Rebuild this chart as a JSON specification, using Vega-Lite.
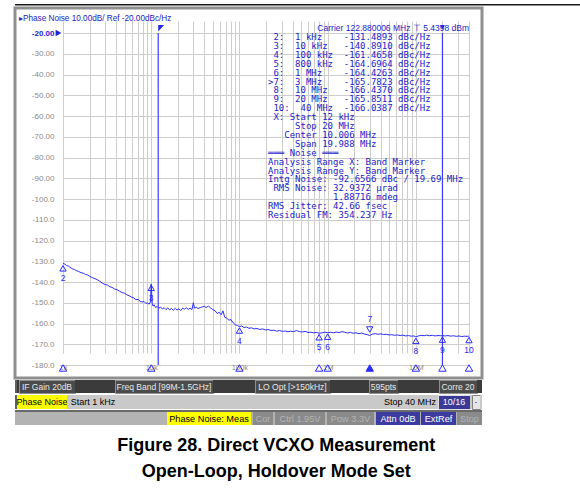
{
  "$schema": "https://vega.github.io/schema/vega-lite/v6.json",
  "background": "white",
  "padding": {"left": 13, "top": 4, "right": 0, "bottom": 0},
  "config": {"font": "Liberation Sans", "view": {"stroke": null}, "axis": {"gridColor": "#cdcdcd", "gridWidth": 1}},
  "datasets": {
    "trace": [
      {"f":1000,"v":-131.0},{"f":1050,"v":-131.4},{"f":1100,"v":-132.1},{"f":1150,"v":-132.3},{"f":1200,"v":-132.9},{"f":1270,"v":-133.6},{"f":1350,"v":-134.0},{"f":1430,"v":-134.6},{"f":1500,"v":-134.9},{"f":1600,"v":-135.5},{"f":1700,"v":-135.8},{"f":1800,"v":-136.4},{"f":1900,"v":-136.6},{"f":2000,"v":-137.2},{"f":2150,"v":-137.9},{"f":2300,"v":-138.4},{"f":2450,"v":-138.9},{"f":2600,"v":-139.6},{"f":2800,"v":-140.6},{"f":3000,"v":-141.2},{"f":3200,"v":-141.5},{"f":3400,"v":-142.3},{"f":3600,"v":-142.6},{"f":3850,"v":-143.4},{"f":4100,"v":-143.7},{"f":4400,"v":-144.5},{"f":4700,"v":-145.1},{"f":5000,"v":-145.4},{"f":5300,"v":-146.2},{"f":5600,"v":-146.6},{"f":6000,"v":-147.3},{"f":6300,"v":-147.6},{"f":6700,"v":-148.5},{"f":7100,"v":-148.4},{"f":7500,"v":-149.3},{"f":7900,"v":-149.6},{"f":8300,"v":-149.4},{"f":8700,"v":-150.3},{"f":9100,"v":-150.1},{"f":9500,"v":-150.7},{"f":9800,"v":-149.6},{"f":10000,"v":-140.9},{"f":10250,"v":-150.2},{"f":10500,"v":-151.6},{"f":10800,"v":-151.0},{"f":11200,"v":-152.3},{"f":11700,"v":-151.8},{"f":12200,"v":-152.6},{"f":12800,"v":-152.1},{"f":13400,"v":-153.0},{"f":14000,"v":-152.4},{"f":14700,"v":-153.3},{"f":15400,"v":-152.5},{"f":16200,"v":-153.4},{"f":17000,"v":-152.8},{"f":17800,"v":-153.6},{"f":18700,"v":-152.7},{"f":19600,"v":-153.5},{"f":20600,"v":-152.9},{"f":21600,"v":-153.8},{"f":22700,"v":-152.6},{"f":23800,"v":-153.1},{"f":25000,"v":-152.4},{"f":26300,"v":-153.2},{"f":27600,"v":-152.6},{"f":29000,"v":-153.3},{"f":30000,"v":-150.0},{"f":31000,"v":-152.6},{"f":32500,"v":-152.2},{"f":34000,"v":-152.8},{"f":36000,"v":-152.3},{"f":38000,"v":-152.0},{"f":40000,"v":-151.8},{"f":42000,"v":-152.3},{"f":44500,"v":-151.6},{"f":47000,"v":-152.5},{"f":50000,"v":-153.3},{"f":53000,"v":-153.9},{"f":56000,"v":-155.2},{"f":59000,"v":-154.6},{"f":62000,"v":-155.8},{"f":65000,"v":-153.9},{"f":68000,"v":-156.9},{"f":72000,"v":-157.5},{"f":76000,"v":-158.4},{"f":80000,"v":-158.1},{"f":85000,"v":-159.7},{"f":90000,"v":-160.6},{"f":95000,"v":-161.0},{"f":100000,"v":-161.47},{"f":106000,"v":-161.2},{"f":113000,"v":-162.0},{"f":120000,"v":-161.7},{"f":128000,"v":-162.3},{"f":137000,"v":-162.1},{"f":147000,"v":-162.6},{"f":158000,"v":-162.4},{"f":170000,"v":-162.9},{"f":183000,"v":-162.6},{"f":197000,"v":-163.1},{"f":212000,"v":-162.9},{"f":228000,"v":-163.4},{"f":245000,"v":-163.2},{"f":264000,"v":-163.7},{"f":285000,"v":-163.4},{"f":307000,"v":-163.8},{"f":330000,"v":-163.6},{"f":355000,"v":-164.0},{"f":382000,"v":-163.7},{"f":412000,"v":-163.9},{"f":444000,"v":-163.4},{"f":478000,"v":-163.9},{"f":515000,"v":-164.1},{"f":555000,"v":-163.8},{"f":598000,"v":-164.3},{"f":645000,"v":-164.2},{"f":695000,"v":-164.5},{"f":750000,"v":-164.3},{"f":800000,"v":-164.7},{"f":860000,"v":-164.5},{"f":930000,"v":-164.2},{"f":1000000,"v":-164.43},{"f":1080000,"v":-164.2},{"f":1160000,"v":-164.5},{"f":1250000,"v":-164.1},{"f":1350000,"v":-164.4},{"f":1450000,"v":-163.9},{"f":1560000,"v":-164.2},{"f":1680000,"v":-164.6},{"f":1810000,"v":-164.3},{"f":1950000,"v":-164.7},{"f":2100000,"v":-164.5},{"f":2260000,"v":-164.9},{"f":2430000,"v":-164.6},{"f":2620000,"v":-165.1},{"f":2820000,"v":-165.4},{"f":3000000,"v":-165.78},{"f":3220000,"v":-165.1},{"f":3460000,"v":-164.9},{"f":3720000,"v":-165.2},{"f":4000000,"v":-165.0},{"f":4300000,"v":-165.3},{"f":4620000,"v":-165.2},{"f":4970000,"v":-165.5},{"f":5340000,"v":-165.4},{"f":5740000,"v":-165.7},{"f":6170000,"v":-165.5},{"f":6630000,"v":-165.8},{"f":7130000,"v":-165.6},{"f":7660000,"v":-166.0},{"f":8230000,"v":-165.8},{"f":8850000,"v":-166.1},{"f":9500000,"v":-166.0},{"f":10000000,"v":-166.44},{"f":10700000,"v":-166.0},{"f":11500000,"v":-165.7},{"f":12400000,"v":-165.9},{"f":13300000,"v":-165.6},{"f":14300000,"v":-165.9},{"f":15400000,"v":-165.7},{"f":16500000,"v":-166.0},{"f":17800000,"v":-165.8},{"f":19100000,"v":-165.9},{"f":20000000,"v":-165.85},{"f":21500000,"v":-166.0},{"f":23100000,"v":-165.8},{"f":24800000,"v":-166.1},{"f":26700000,"v":-165.9},{"f":28700000,"v":-166.2},{"f":30800000,"v":-166.0},{"f":33100000,"v":-166.3},{"f":35600000,"v":-166.1},{"f":38200000,"v":-166.2},{"f":40000000,"v":-166.04}
    ],
    "markers": [
      {"n":"2","f":1000,"v":-131.4893,"active":false},
      {"n":"3","f":10000,"v":-140.891,"active":false},
      {"n":"4","f":100000,"v":-161.4658,"active":false},
      {"n":"5","f":800000,"v":-164.6964,"active":false},
      {"n":"6","f":1000000,"v":-164.4263,"active":false},
      {"n":"7","f":3000000,"v":-165.7823,"active":true},
      {"n":"8","f":10000000,"v":-166.437,"active":false},
      {"n":"9","f":20000000,"v":-165.8511,"active":false},
      {"n":"10","f":40000000,"v":-166.0387,"active":false}
    ],
    "bands": [{"f":12000,"edge":"start"},{"f":20000000,"edge":"stop"}],
    "reflevel": [{"f":1000,"v":-20}],
    "annot": [
      {"carrier": "Carrier 122.880006 MHz \u22a4 5.4398 dBm",
       "table": "\u200b\u00a02:\u00a0\u00a01\u00a0kHz\u00a0\u00a0\u00a0\u00a0-131.4893\u00a0dBc/Hz\n\u200b\u00a03:\u00a0\u00a010\u00a0kHz\u00a0\u00a0\u00a0-140.8910\u00a0dBc/Hz\n\u200b\u00a04:\u00a0\u00a0100\u00a0kHz\u00a0\u00a0-161.4658\u00a0dBc/Hz\n\u200b\u00a05:\u00a0\u00a0800\u00a0kHz\u00a0\u00a0-164.6964\u00a0dBc/Hz\n\u200b\u00a06:\u00a0\u00a01\u00a0MHz\u00a0\u00a0\u00a0\u00a0-164.4263\u00a0dBc/Hz\n>7:\u00a0\u00a03\u00a0MHz\u00a0\u00a0\u00a0\u00a0-165.7823\u00a0dBc/Hz\n\u200b\u00a08:\u00a0\u00a010\u00a0MHz\u00a0\u00a0\u00a0-166.4370\u00a0dBc/Hz\n\u200b\u00a09:\u00a0\u00a020\u00a0MHz\u00a0\u00a0\u00a0-165.8511\u00a0dBc/Hz\n\u200b\u00a010:\u00a0\u00a040\u00a0MHz\u00a0\u00a0-166.0387\u00a0dBc/Hz\n\u200b\u00a0X:\u00a0Start\u00a012\u00a0kHz\n\u200b\u00a0\u00a0\u00a0\u00a0\u00a0Stop\u00a020\u00a0MHz\n\u200b\u00a0\u00a0\u00a0Center\u00a010.006\u00a0MHz\n\u200b\u00a0\u00a0\u00a0\u00a0\u00a0Span\u00a019.988\u00a0MHz\n\u2550\u2550\u2550\u00a0Noise\u00a0\u2550\u2550\u2550\nAnalysis\u00a0Range\u00a0X:\u00a0Band\u00a0Marker\nAnalysis\u00a0Range\u00a0Y:\u00a0Band\u00a0Marker\nIntg\u00a0Noise:\u00a0-92.6566\u00a0dBc\u00a0/\u00a019.69\u00a0MHz\n\u200b\u00a0RMS\u00a0Noise:\u00a032.9372\u00a0\u00b5rad\n\u200b\u00a0\u00a0\u00a0\u00a0\u00a0\u00a0\u00a0\u00a0\u00a0\u00a0\u00a0\u00a01.88716\u00a0mdeg\nRMS\u00a0Jitter:\u00a042.66\u00a0fsec\nResidual\u00a0FM:\u00a0354.237\u00a0Hz"}
    ]
  },
  "title": {"text": ["Figure 28. Direct VCXO Measurement", "Open-Loop, Holdover Mode Set"], "orient": "bottom", "anchor": "middle", "font": "Liberation Sans", "fontSize": 18, "fontWeight": "bold", "color": "#000000", "lineHeight": 26, "offset": 12, "dx": -21.5, "baseline": "top"},
  "spacing": 0,
  "vconcat": [
    {"width": 567, "height": 1.5, "view": {"fill": "#1a1a1a", "stroke": null}, "data": {"values": []}, "mark": "text", "encoding": {}},
    {
      "spacing": -9,
      "vconcat": [
        {
          "width": 467, "height": 370,
          "view": {"stroke": "#8f8f8f", "strokeWidth": 3, "fill": "white"},
          "title": {"text": "\u25b8Phase Noise 10.00dB/ Ref -20.00dBc/Hz", "anchor": "start", "frame": "group", "fontSize": 8.2, "fontWeight": "normal", "font": "Liberation Sans", "color": "#2222c4", "offset": -23.5, "baseline": "bottom", "dx": 4},
          "resolve": {"axis": {"y": "independent"}},
          "layer": [
            {
              "data": {"name": "trace"},
              "mark": {"type": "line", "color": "#2d2dff", "strokeWidth": 1},
              "encoding": {
                "x": {"field": "f", "type": "quantitative", "title": null, "scale": {"type": "log", "domain": [1000, 40000000], "range": [48, 454], "nice": false},
                      "axis": {"title": null, "values": [1000,2000,3000,4000,5000,6000,7000,8000,9000,10000,20000,30000,40000,50000,60000,70000,80000,90000,100000,200000,300000,400000,500000,600000,700000,800000,900000,1000000,2000000,3000000,4000000,5000000,6000000,7000000,8000000,9000000,10000000,20000000,30000000,40000000],
                               "grid": true, "ticks": false, "domain": false, "labelOverlap": false, "labelFlush": false, "offset": -13,
                               "labelExpr": "datum.value == 1000 ? '1k' : datum.value == 10000 ? '10k' : datum.value == 100000 ? '100k' : datum.value == 1000000 ? '1M' : datum.value == 10000000 ? '10M' : ''",
                               "labelFontSize": 7.5, "labelColor": "#8a8a8a", "labelPadding": -2}},
                "y": {"field": "v", "type": "quantitative", "title": null, "scale": {"domain": [-180, -20], "range": [357, 25], "nice": false, "zero": false},
                      "axis": {"title": null, "values": [-20,-30,-40,-50,-60,-70,-80,-90,-100,-110,-120,-130,-140,-150,-160,-170,-180],
                               "grid": true, "ticks": false, "domain": false, "labelOverlap": false, "offset": -48,
                               "labelExpr": "datum.value > -100 ? '-' + format(-datum.value, '.2f') : '-' + format(-datum.value, '.1f')",
                               "labelFontSize": 8, "labelFont": "Liberation Sans", "labelPadding": 9,
                               "labelColor": {"condition": {"test": "datum.value == -20", "value": "#1c1cd0"}, "value": "#8a8a8a"},
                               "labelFontWeight": {"condition": {"test": "datum.value == -20", "value": "bold"}, "value": "normal"}}}
              }
            },
            {
              "data": {"name": "bands"},
              "mark": {"type": "rule", "color": "#3b3bff", "strokeWidth": 1.2},
              "encoding": {"x": {"field": "f", "type": "quantitative", "title": null}, "y": {"datum": -20, "type": "quantitative", "axis": null}, "y2": {"datum": -180}}
            },
            {
              "data": {"name": "bands"},
              "mark": {"type": "point", "filled": true, "size": 64, "color": "#2a2ae8", "opacity": 1},
              "encoding": {
                "x": {"field": "f", "type": "quantitative", "title": null},
                "y": {"datum": -20, "type": "quantitative", "axis": null},
                "shape": {"field": "edge", "type": "nominal", "scale": {"domain": ["start", "stop"], "range": ["M0,-2L1.5,-2L0,-0.35Z", "M-0.6,-2L0.6,-2L0,-0.9Z"]}, "legend": null}
              }
            },
            {
              "data": {"name": "reflevel"},
              "mark": {"type": "point", "shape": "triangle-right", "filled": true, "size": 45, "color": "#2222dd", "opacity": 1, "xOffset": -4.5},
              "encoding": {"x": {"field": "f", "type": "quantitative", "title": null}, "y": {"field": "v", "type": "quantitative", "axis": null}}
            },
            {
              "data": {"name": "markers"},
              "transform": [{"filter": "!datum.active"}],
              "mark": {"type": "point", "shape": "triangle-up", "size": 40, "filled": false, "color": "#2b2bff", "strokeWidth": 1, "opacity": 1, "yOffset": 4},
              "encoding": {"x": {"field": "f", "type": "quantitative", "title": null}, "y": {"field": "v", "type": "quantitative", "axis": null}}
            },
            {
              "data": {"name": "markers"},
              "transform": [{"filter": "!datum.active"}],
              "mark": {"type": "text", "fontSize": 8.5, "color": "#2b2bff", "dy": 14, "baseline": "middle"},
              "encoding": {"x": {"field": "f", "type": "quantitative", "title": null}, "y": {"field": "v", "type": "quantitative", "axis": null}, "text": {"field": "n"}}
            },
            {
              "data": {"name": "markers"},
              "transform": [{"filter": "datum.active"}],
              "mark": {"type": "point", "shape": "triangle-down", "size": 40, "filled": false, "color": "#2b2bff", "strokeWidth": 1, "opacity": 1, "yOffset": -6},
              "encoding": {"x": {"field": "f", "type": "quantitative", "title": null}, "y": {"field": "v", "type": "quantitative", "axis": null}}
            },
            {
              "data": {"name": "markers"},
              "transform": [{"filter": "datum.active"}],
              "mark": {"type": "text", "fontSize": 8.5, "color": "#2b2bff", "dy": -16.5, "baseline": "middle"},
              "encoding": {"x": {"field": "f", "type": "quantitative", "title": null}, "y": {"field": "v", "type": "quantitative", "axis": null}, "text": {"field": "n"}}
            },
            {
              "data": {"name": "markers"},
              "mark": {"type": "point", "shape": "triangle-up", "size": 55, "filled": true, "stroke": "#2b2bff", "strokeWidth": 1, "opacity": 1, "yOffset": 3},
              "encoding": {
                "x": {"field": "f", "type": "quantitative", "title": null},
                "y": {"datum": -180, "type": "quantitative", "axis": null},
                "fill": {"condition": {"test": "datum.active", "value": "#2b2bff"}, "value": "transparent"}
              }
            },
            {
              "data": {"name": "annot"},
              "mark": {"type": "text", "font": "DejaVu Sans Mono", "fontSize": 9, "lineHeight": 8.9, "lineBreak": "\n", "align": "left", "baseline": "top", "color": "#2323c8", "dx": -201, "dy": 0},
              "encoding": {"x": {"datum": 40000000, "type": "quantitative", "title": null}, "y": {"datum": -20, "type": "quantitative", "axis": null}, "text": {"field": "table"}}
            },
            {
              "data": {"name": "annot"},
              "mark": {"type": "text", "font": "Liberation Sans", "fontSize": 8.5, "align": "right", "baseline": "alphabetic", "color": "#2323c8", "dy": -1.8},
              "encoding": {"x": {"datum": 40000000, "type": "quantitative", "title": null}, "y": {"datum": -20, "type": "quantitative", "axis": null}, "text": {"field": "carrier"}}
            }
          ]
        },
        {
          "spacing": 0,
          "vconcat": [
            {
              "spacing": 0, "bounds": "flush",
              "hconcat": [
                {"width": 2, "height": 13, "view": {"fill": "#5f5f5f", "stroke": null}, "data": {"values": []}, "mark": "text", "encoding": {}},
                {"width": 2, "height": 13, "view": {"fill": "#3b3b3b", "stroke": null}, "data": {"values": []}, "mark": "text", "encoding": {}},
                {"width": 56, "height": 13, "view": {"fill": "#4b4b4b", "stroke": "#8f8f8f"}, "data": {"values": [{"t": "IF Gain 20dB"}]}, "mark": {"type": "text", "color": "#e8e8e8", "fontSize": 8.5}, "encoding": {"text": {"field": "t"}}},
                {"width": 40, "height": 13, "view": {"fill": "#3b3b3b", "stroke": null}, "data": {"values": []}, "mark": "text", "encoding": {}},
                {"width": 98, "height": 13, "view": {"fill": "#4b4b4b", "stroke": "#8f8f8f"}, "data": {"values": [{"t": "Freq Band [99M-1.5GHz]"}]}, "mark": {"type": "text", "color": "#e8e8e8", "fontSize": 8.5}, "encoding": {"text": {"field": "t"}}},
                {"width": 42, "height": 13, "view": {"fill": "#3b3b3b", "stroke": null}, "data": {"values": []}, "mark": "text", "encoding": {}},
                {"width": 75, "height": 13, "view": {"fill": "#4b4b4b", "stroke": "#8f8f8f"}, "data": {"values": [{"t": "LO Opt [>150kHz]"}]}, "mark": {"type": "text", "color": "#e8e8e8", "fontSize": 8.5}, "encoding": {"text": {"field": "t"}}},
                {"width": 39, "height": 13, "view": {"fill": "#3b3b3b", "stroke": null}, "data": {"values": []}, "mark": "text", "encoding": {}},
                {"width": 29, "height": 13, "view": {"fill": "#4b4b4b", "stroke": "#8f8f8f"}, "data": {"values": [{"t": "595pts"}]}, "mark": {"type": "text", "color": "#e8e8e8", "fontSize": 8.5}, "encoding": {"text": {"field": "t"}}},
                {"width": 41, "height": 13, "view": {"fill": "#3b3b3b", "stroke": null}, "data": {"values": []}, "mark": "text", "encoding": {}},
                {"width": 38, "height": 13, "view": {"fill": "#4b4b4b", "stroke": "#8f8f8f"}, "data": {"values": [{"t": "Corre 20"}]}, "mark": {"type": "text", "color": "#e8e8e8", "fontSize": 8.5}, "encoding": {"text": {"field": "t"}}},
                {"width": 5, "height": 13, "view": {"fill": "#3b3b3b", "stroke": null}, "data": {"values": []}, "mark": "text", "encoding": {}}
              ]
            },
            {
              "spacing": 0, "bounds": "flush",
              "hconcat": [
                {"width": 2, "height": 14, "view": {"fill": "#5f5f5f", "stroke": null}, "data": {"values": []}, "mark": "text", "encoding": {}},
                {"width": 50, "height": 14, "view": {"fill": "#ffff00", "stroke": null}, "data": {"values": [{"t": "Phase Noise"}]}, "mark": {"type": "text", "color": "#000000", "fontSize": 9}, "encoding": {"text": {"field": "t"}}},
                {"width": 52, "height": 14, "view": {"fill": "#c9c9c9", "stroke": null}, "data": {"values": [{"t": "Start 1 kHz"}]}, "mark": {"type": "text", "color": "#000000", "fontSize": 9}, "encoding": {"text": {"field": "t"}}},
                {"width": 265, "height": 14, "view": {"fill": "#c9c9c9", "stroke": null}, "data": {"values": []}, "mark": "text", "encoding": {}},
                {"width": 52, "height": 14, "view": {"fill": "#c9c9c9", "stroke": null}, "data": {"values": [{"t": "Stop 40 MHz"}]}, "mark": {"type": "text", "color": "#000000", "fontSize": 9}, "encoding": {"text": {"field": "t"}}},
                {"width": 2, "height": 14, "view": {"fill": "#c9c9c9", "stroke": null}, "data": {"values": []}, "mark": "text", "encoding": {}},
                {"width": 32, "height": 14, "view": {"fill": "#3a3a96", "stroke": "#e0e0e0"}, "data": {"values": [{"t": "10/16"}]}, "mark": {"type": "text", "color": "#ffffff", "fontSize": 9}, "encoding": {"text": {"field": "t"}}},
                {"width": 2, "height": 14, "view": {"fill": "#c9c9c9", "stroke": null}, "data": {"values": []}, "mark": "text", "encoding": {}},
                {"width": 8, "height": 14, "view": {"fill": "#e6e6e6", "stroke": "#808080"}, "data": {"values": [{"t": "\u00b7"}]}, "mark": {"type": "text", "color": "#000000", "fontSize": 9}, "encoding": {"text": {"field": "t"}}},
                {"width": 2, "height": 14, "view": {"fill": "#c9c9c9", "stroke": null}, "data": {"values": []}, "mark": "text", "encoding": {}}
              ]
            },
            {"width": 467, "height": 2, "view": {"fill": "#6a6a6a", "stroke": null}, "data": {"values": []}, "mark": "text", "encoding": {}},
            {
              "spacing": 0, "bounds": "flush",
              "hconcat": [
                {"width": 152, "height": 13, "view": {"fill": "#b3b3b3", "stroke": null}, "data": {"values": []}, "mark": "text", "encoding": {}},
                {"width": 84, "height": 13, "view": {"fill": "#ffff00", "stroke": null}, "data": {"values": [{"t": "Phase Noise: Meas"}]}, "mark": {"type": "text", "color": "#000000", "fontSize": 9.2}, "encoding": {"text": {"field": "t"}}},
                {"width": 2, "height": 13, "view": {"fill": "#b3b3b3", "stroke": null}, "data": {"values": []}, "mark": "text", "encoding": {}},
                {"width": 20, "height": 13, "view": {"fill": "#8a8a8a", "stroke": null}, "data": {"values": [{"t": "Cor"}]}, "mark": {"type": "text", "color": "#b4b4b4", "fontSize": 9.2}, "encoding": {"text": {"field": "t"}}},
                {"width": 2, "height": 13, "view": {"fill": "#b3b3b3", "stroke": null}, "data": {"values": []}, "mark": "text", "encoding": {}},
                {"width": 50, "height": 13, "view": {"fill": "#8a8a8a", "stroke": null}, "data": {"values": [{"t": "Ctrl  1.95V"}]}, "mark": {"type": "text", "color": "#b4b4b4", "fontSize": 9.2}, "encoding": {"text": {"field": "t"}}},
                {"width": 2, "height": 13, "view": {"fill": "#b3b3b3", "stroke": null}, "data": {"values": []}, "mark": "text", "encoding": {}},
                {"width": 47, "height": 13, "view": {"fill": "#8a8a8a", "stroke": null}, "data": {"values": [{"t": "Pow  3.3V"}]}, "mark": {"type": "text", "color": "#b4b4b4", "fontSize": 9.2}, "encoding": {"text": {"field": "t"}}},
                {"width": 2, "height": 13, "view": {"fill": "#b3b3b3", "stroke": null}, "data": {"values": []}, "mark": "text", "encoding": {}},
                {"width": 44, "height": 13, "view": {"fill": "#3c3ca0", "stroke": null}, "data": {"values": [{"t": "Attn 0dB"}]}, "mark": {"type": "text", "color": "#ffffff", "fontSize": 9.2}, "encoding": {"text": {"field": "t"}}},
                {"width": 1, "height": 13, "view": {"fill": "#b3b3b3", "stroke": null}, "data": {"values": []}, "mark": "text", "encoding": {}},
                {"width": 35, "height": 13, "view": {"fill": "#3c3ca0", "stroke": null}, "data": {"values": [{"t": "ExtRef"}]}, "mark": {"type": "text", "color": "#ffffff", "fontSize": 9.2}, "encoding": {"text": {"field": "t"}}},
                {"width": 1, "height": 13, "view": {"fill": "#b3b3b3", "stroke": null}, "data": {"values": []}, "mark": "text", "encoding": {}},
                {"width": 25, "height": 13, "view": {"fill": "#8a8a8a", "stroke": null}, "data": {"values": [{"t": "Stop"}]}, "mark": {"type": "text", "color": "#b4b4b4", "fontSize": 9.2}, "encoding": {"text": {"field": "t"}}}
              ]
            }
          ]
        }
      ]
    }
  ]
}
